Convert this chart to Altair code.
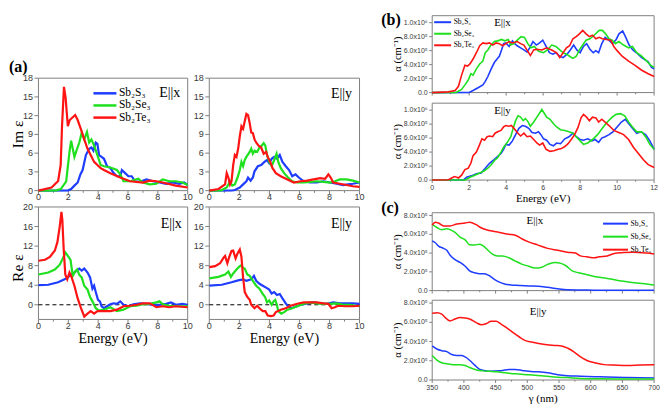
import math
import altair as alt
import pandas as pd

SERIES = ["Sb₂S₃", "Sb₂Se₃", "Sb₂Te₃"]
COLORS = ["#1f3dff", "#1fe01f", "#ff1414"]

# ---------- (a) Im eps, E||x  (energy eV, value)
A1_S = [(0,0),(2.0,0.05),(2.19,0.25),(2.41,0.8),(2.63,1.3),(2.81,2.6),(2.96,3.3),(3.18,5.7),(3.4,6.7),(3.55,6.9),(3.68,6.4),(3.84,7.7),(3.95,7.5),(4.06,5.7),(4.23,5.4),(4.39,5.1),(4.6,3.9),(4.82,3.6),(5.04,2.8),(5.26,2.3),(5.48,2.3),(5.59,3.3),(5.81,2.8),(6.03,2.3),(6.25,2.3),(6.47,1.5),(6.8,1.4),(7.24,1.8),(7.68,1.5),(8.11,1.3),(8.55,1.1),(9.0,1.3),(9.43,1.1),(9.76,1.3),(10,0.9)]
A1_SE = [(0,0),(1.2,0.05),(1.5,0.25),(1.86,1.5),(2.08,6.2),(2.19,8.0),(2.3,6.7),(2.41,5.4),(2.59,6.7),(2.74,7.7),(2.9,9.3),(3.07,8.2),(3.25,9.4),(3.4,7.7),(3.55,8.2),(3.73,7.2),(3.95,5.7),(4.17,4.1),(4.39,3.9),(4.82,3.7),(5.26,3.3),(5.48,2.6),(5.7,1.5),(6.14,1.5),(6.69,1.9),(7.0,1.3),(7.46,1.0),(7.9,1.1),(8.33,1.8),(8.77,1.5),(9.2,1.5),(9.65,1.3),(10,0.9)]
A1_TE = [(0,0),(0.88,0.51),(1.32,1.54),(1.49,4.1),(1.58,10.3),(1.71,16.6),(1.82,14.9),(1.97,10.3),(2.1,11.3),(2.46,12.1),(2.63,11.3),(2.85,9.8),(3.07,8.2),(3.29,6.7),(3.5,5.7),(3.73,4.6),(3.95,4.1),(4.17,3.6),(4.39,3.3),(4.82,2.8),(5.48,2.1),(6.14,1.5),(7.0,1.3),(7.46,1.6),(7.9,1.5),(8.33,1.3),(9.2,0.8),(10,0.5)]

# ---------- (a) Im eps, E||y
A2_S = [(0,0),(1.5,0.02),(1.7,0.1),(2.03,0.5),(2.25,1.0),(2.47,1.5),(2.58,2.1),(2.75,1.6),(2.9,2.1),(3.01,3.1),(3.23,3.9),(3.45,4.1),(3.67,4.6),(3.84,4.9),(3.99,4.4),(4.15,5.1),(4.32,5.4),(4.5,5.1),(4.69,5.7),(4.87,4.6),(5.09,3.9),(5.31,3.3),(5.52,2.3),(5.74,2.6),(5.96,2.1),(6.29,1.5),(6.72,1.3),(7.16,1.3),(7.6,1.5),(8.03,1.3),(8.47,1.1),(8.91,0.9),(9.24,1.0),(9.56,1.1),(10,1.3)]
A2_SE = [(0,0),(0.8,0.05),(1.16,0.5),(1.38,1.5),(1.53,0.8),(1.7,1.0),(1.88,2.1),(2.03,3.3),(2.14,4.6),(2.25,3.9),(2.36,4.9),(2.47,5.4),(2.69,6.2),(2.79,6.7),(2.9,5.9),(3.01,6.4),(3.19,6.2),(3.34,6.9),(3.49,7.2),(3.62,7.6),(3.73,7.2),(3.84,5.7),(3.99,4.6),(4.15,3.9),(4.32,4.9),(4.48,5.9),(4.59,4.6),(4.76,3.6),(4.98,2.8),(5.24,2.1),(5.52,1.5),(5.85,1.3),(6.29,1.3),(6.72,1.4),(7.16,1.5),(7.6,1.4),(8.03,1.3),(8.36,1.5),(8.69,1.8),(9.13,1.8),(9.56,1.6),(10,1.3)]
A2_TE = [(0,0),(0.61,0.26),(1.05,1.0),(1.16,2.8),(1.27,2.1),(1.38,1.0),(1.48,1.5),(1.59,4.1),(1.7,5.7),(1.81,5.4),(1.92,6.7),(2.03,8.7),(2.14,10.3),(2.25,9.9),(2.36,11.1),(2.47,12.3),(2.58,12.1),(2.69,10.8),(2.79,9.3),(2.9,9.2),(3.01,8.2),(3.12,7.7),(3.28,7.2),(3.45,6.9),(3.62,5.9),(3.78,6.2),(3.89,5.4),(4.06,4.6),(4.21,3.6),(4.43,2.8),(4.76,2.3),(5.2,1.8),(5.63,1.3),(6.07,1.5),(6.51,1.6),(6.94,1.8),(7.38,2.0),(7.71,1.9),(7.93,2.6),(8.08,2.1),(8.25,1.3),(8.69,1.1),(9.13,0.9),(9.56,0.7),(10,0.6)]

# ---------- (a) Re eps, E||x
A3_S = [(0,4.0),(0.66,4.1),(1.32,4.6),(1.75,5.2),(2.19,6.1),(2.52,6.9),(2.74,7.4),(2.9,7.0),(3.07,7.4),(3.29,6.6),(3.46,5.6),(3.62,3.3),(3.73,3.9),(3.84,2.6),(3.99,1.0),(4.12,0.7),(4.23,-0.3),(4.39,-0.7),(4.6,-0.3),(4.82,0.1),(5.04,0.3),(5.26,0.2),(5.48,0.7),(5.7,0),(6.03,-0.3),(6.36,0.1),(6.8,0.3),(7.24,0.2),(7.68,0),(8.11,0),(8.55,0.2),(8.88,0.5),(9.2,0),(9.65,0.2),(10,0)]
A3_SE = [(0,6.2),(0.66,6.6),(1.1,7.2),(1.43,8.2),(1.64,9.5),(1.8,10.7),(1.97,10.0),(2.15,9.2),(2.3,5.9),(2.46,6.8),(2.59,7.2),(2.74,6.1),(2.9,5.6),(3.07,3.9),(3.29,3.1),(3.46,1.6),(3.62,0.7),(3.84,-0.7),(4.06,-1.2),(4.39,-1.0),(4.82,-0.5),(5.26,-1.3),(5.7,-1.0),(6.14,-0.3),(6.58,-0.2),(7.0,0.1),(7.46,0.2),(7.9,0.5),(8.11,0.7),(8.33,0.1),(8.77,-0.2),(9.43,-0.3),(10,-0.3)]
A3_TE = [(0,9.0),(0.44,9.2),(0.77,9.8),(1.1,11.1),(1.27,12.8),(1.43,16.1),(1.54,19.0),(1.6,17.4),(1.69,11.5),(1.8,6.2),(1.93,5.2),(2.08,6.6),(2.19,5.9),(2.41,3.9),(2.63,1.3),(2.85,-0.7),(3.07,-2.4),(3.29,-1.8),(3.5,-1.3),(3.73,-1.8),(3.95,-1.3),(4.39,-1.3),(4.82,-1.3),(5.26,-1.0),(5.7,-0.3),(6.14,-0.2),(6.58,0),(7.0,0.3),(7.46,0.3),(7.9,-0.5),(8.33,-0.3),(8.77,-0.5),(9.2,-0.3),(10,-0.5)]

# ---------- (a) Re eps, E||y
A4_S = [(0,3.9),(0.83,4.1),(1.48,4.6),(1.92,5.0),(2.25,5.2),(2.47,4.9),(2.79,5.2),(2.97,5.9),(3.12,4.9),(3.34,4.3),(3.56,3.9),(3.78,3.5),(3.99,3.1),(4.15,2.3),(4.32,2.6),(4.5,2.0),(4.69,2.2),(4.87,1.3),(5.09,0.3),(5.24,-0.3),(5.41,-0.7),(5.63,-0.5),(5.85,-0.3),(6.07,0),(6.51,0.3),(6.94,0.5),(7.38,0.3),(7.82,0.2),(8.25,0.5),(8.69,0.3),(9.13,0.3),(9.56,0.3),(10,0.2)]
A4_SE = [(0,5.4),(0.61,5.7),(1.05,6.2),(1.27,6.8),(1.44,5.7),(1.59,6.4),(1.81,7.2),(2.03,7.9),(2.14,8.1),(2.25,7.5),(2.36,7.4),(2.53,6.2),(2.69,5.9),(2.9,4.9),(3.12,3.9),(3.34,3.3),(3.56,2.2),(3.71,1.6),(3.84,0.5),(3.99,0.9),(4.15,0),(4.28,0.7),(4.39,1.0),(4.5,0),(4.59,-1.3),(4.8,-1.8),(4.98,-1.5),(5.2,-1.0),(5.52,-0.7),(5.85,-0.3),(6.29,0.2),(6.72,0.5),(7.16,0.3),(7.6,0.2),(8.03,0.2),(8.47,0.3),(8.91,0),(9.34,0),(10,-0.3)]
A4_TE = [(0,7.7),(0.39,7.9),(0.72,8.5),(0.94,9.6),(1.05,10.0),(1.2,8.5),(1.33,9.8),(1.48,11.0),(1.59,11.1),(1.75,9.5),(1.88,10.5),(2.03,11.3),(2.14,9.8),(2.25,5.6),(2.36,2.6),(2.53,1.6),(2.69,1.0),(2.79,0),(3.01,-0.7),(3.19,-0.2),(3.34,-0.7),(3.56,-1.3),(3.73,-1.3),(3.89,-2.2),(4.1,-2.3),(4.28,-2.2),(4.43,-1.5),(4.76,-1.0),(5.09,-0.7),(5.41,-0.2),(5.85,0.2),(6.29,0.5),(6.72,0.5),(7.16,0.5),(7.6,0.3),(7.93,0.2),(8.14,-0.7),(8.36,-0.5),(8.58,-0.2),(9.02,-0.3),(9.56,-0.3),(10,-0.2)]

# ---------- (b) alpha (x1e5 cm^-1) vs energy, E||x
B1_S = [(0,0),(2.0,0.02),(2.21,0.3),(2.48,0.7),(2.74,1.1),(2.87,1.6),(3.01,2.3),(3.19,3.4),(3.36,4.3),(3.54,4.9),(3.63,5.2),(3.75,6.1),(3.86,7.0),(3.98,7.1),(4.16,6.6),(4.34,7.4),(4.46,7.0),(4.6,6.7),(4.78,6.4),(4.96,6.1),(5.13,5.8),(5.27,6.4),(5.45,7.3),(5.63,6.8),(5.81,7.1),(5.98,7.5),(6.16,6.6),(6.34,5.7),(6.52,5.5),(6.69,5.7),(6.9,5.2),(7.08,5.0),(7.29,5.5),(7.47,6.1),(7.65,6.8),(7.82,6.1),(8.0,5.7),(8.18,6.6),(8.35,7.0),(8.53,6.2),(8.71,5.7),(8.85,6.0),(9.0,5.7),(9.17,7.0),(9.35,7.9),(9.55,7.5),(9.75,7.0),(9.95,7.6),(10.1,8.4),(10.3,8.8),(10.45,8.0),(10.65,6.8),(10.85,6.1),(11.05,5.7),(11.33,5.0),(11.68,4.4),(11.86,3.6),(12,3.4)]
B1_SE = [(0,0),(1.3,0.02),(1.59,0.45),(1.77,1.1),(1.95,1.8),(2.09,2.7),(2.21,2.5),(2.39,3.4),(2.57,4.1),(2.74,4.5),(2.87,5.7),(3.01,6.1),(3.15,6.7),(3.36,7.3),(3.54,7.4),(3.75,7.6),(3.93,7.4),(4.11,7.6),(4.25,6.8),(4.42,7.0),(4.6,7.5),(4.81,8.0),(4.99,7.9),(5.17,7.0),(5.34,6.4),(5.52,6.6),(5.75,5.9),(6.02,5.7),(6.23,6.1),(6.46,6.8),(6.69,6.6),(6.9,6.1),(7.08,5.7),(7.26,5.5),(7.43,5.2),(7.61,4.9),(7.79,5.2),(7.96,6.1),(8.14,6.8),(8.32,7.5),(8.53,7.7),(8.76,8.2),(9.03,8.9),(9.2,8.9),(9.38,8.4),(9.56,7.7),(9.73,7.5),(9.91,7.0),(10.09,7.3),(10.35,6.8),(10.62,6.4),(10.83,6.6),(11.06,5.7),(11.33,5.2),(11.6,4.5),(11.82,3.9),(12,3.6)]
B1_TE = [(0,0),(0.88,0.1),(1.24,0.3),(1.42,0.9),(1.59,2.5),(1.77,3.9),(1.91,3.8),(2.04,4.1),(2.21,4.8),(2.39,5.7),(2.57,6.7),(2.74,7.1),(2.92,7.0),(3.1,7.1),(3.27,6.8),(3.45,7.1),(3.63,7.0),(3.81,6.7),(3.98,7.0),(4.16,7.3),(4.34,7.1),(4.6,7.3),(4.78,7.0),(4.96,6.8),(5.17,5.9),(5.31,5.3),(5.49,6.1),(5.66,6.2),(5.93,6.1),(6.19,6.4),(6.46,6.1),(6.73,5.7),(6.9,5.0),(7.08,5.7),(7.26,6.4),(7.43,6.7),(7.61,7.7),(7.79,8.0),(7.96,8.4),(8.14,8.9),(8.32,8.4),(8.5,8.0),(8.67,8.2),(8.85,7.7),(9.03,7.9),(9.2,7.7),(9.42,7.6),(9.65,7.5),(9.82,6.6),(10.0,6.0),(10.27,5.2),(10.62,4.5),(10.97,3.9),(11.33,3.2),(11.68,2.7),(12,2.3)]

# ---------- (b) alpha vs energy, E||y
B2_S = [(0,0),(1.7,0.02),(1.86,0.4),(2.12,0.6),(2.39,0.9),(2.65,1.0),(2.87,1.7),(3.1,2.4),(3.33,2.9),(3.5,3.3),(3.72,3.8),(3.86,4.4),(3.98,5.1),(4.16,5.0),(4.34,5.6),(4.51,6.5),(4.69,7.4),(4.87,7.8),(5.04,7.7),(5.22,7.4),(5.4,6.8),(5.58,6.7),(5.75,6.9),(5.88,6.5),(6.02,5.9),(6.19,5.7),(6.37,5.1),(6.55,4.9),(6.73,5.3),(6.94,5.2),(7.17,5.9),(7.4,6.2),(7.61,6.7),(7.79,6.2),(8.0,5.8),(8.18,5.7),(8.41,5.9),(8.64,5.6),(8.81,5.8),(9.0,5.4),(9.17,6.0),(9.35,6.2),(9.56,6.5),(9.77,6.9),(10.0,7.6),(10.23,8.3),(10.44,8.7),(10.62,8.1),(10.83,7.4),(11.06,6.7),(11.29,6.9),(11.54,6.5),(11.77,5.6),(12,4.4)]
B2_SE = [(0,0),(1.8,0.02),(2.04,0.4),(2.3,0.7),(2.57,1.0),(2.8,1.3),(3.01,1.7),(3.19,2.2),(3.4,2.9),(3.54,3.2),(3.72,4.0),(3.86,4.7),(3.98,5.1),(4.11,5.6),(4.25,6.2),(4.39,7.5),(4.51,8.5),(4.64,9.2),(4.78,9.0),(4.92,8.5),(5.04,8.8),(5.17,8.4),(5.31,7.7),(5.49,8.3),(5.66,9.0),(5.81,9.6),(5.93,10.1),(6.05,9.6),(6.19,9.0),(6.37,8.7),(6.55,8.1),(6.73,7.6),(6.94,7.2),(7.17,7.1),(7.4,6.9),(7.61,6.7),(7.79,6.2),(8.0,5.6),(8.18,5.1),(8.41,5.3),(8.67,5.8),(8.94,6.5),(9.2,7.4),(9.47,8.3),(9.73,9.0),(9.95,9.4),(10.18,9.5),(10.41,9.2),(10.62,8.3),(10.83,7.6),(11.06,6.9),(11.33,6.9),(11.54,6.2),(11.77,5.1),(12,4.4)]
B2_TE = [(0,0),(0.88,0.05),(1.06,0.3),(1.2,0.5),(1.33,0.4),(1.42,0.3),(1.59,0.7),(1.77,1.5),(1.95,1.7),(2.09,2.4),(2.21,3.5),(2.39,4.0),(2.57,5.1),(2.69,5.9),(2.83,5.7),(2.97,6.2),(3.1,6.3),(3.27,6.2),(3.4,6.7),(3.54,6.9),(3.72,7.1),(3.86,7.6),(3.98,7.8),(4.16,7.7),(4.28,7.8),(4.42,7.4),(4.6,6.8),(4.78,6.3),(4.96,6.7),(5.13,6.2),(5.31,6.3),(5.49,5.8),(5.66,5.3),(5.81,5.0),(5.98,5.3),(6.16,4.4),(6.37,4.1),(6.58,4.2),(6.81,4.4),(6.99,4.5),(7.17,4.8),(7.35,5.2),(7.52,5.8),(7.7,6.5),(7.88,7.5),(8.05,8.9),(8.18,9.4),(8.35,9.0),(8.5,8.5),(8.67,9.0),(8.85,8.9),(9.0,8.3),(9.17,8.7),(9.35,8.3),(9.56,7.8),(9.82,7.1),(10.09,6.8),(10.35,6.5),(10.62,5.8),(10.88,4.7),(11.15,3.8),(11.42,2.9),(11.68,2.2),(12,1.8)]

# ---------- (c) alpha (x1e5 cm^-1) vs wavelength (nm), E||x
C1_S = [(350,5.3),(355,5.1),(360,4.75),(368,4.5),(373,4.3),(378,3.8),(386,3.3),(394,3.0),(402,2.6),(409,2.1),(417,1.9),(425,1.8),(432,1.8),(440,1.6),(448,1.2),(456,0.9),(464,0.7),(474,0.6),(487,0.55),(502,0.5),(517,0.47),(532,0.35),(548,0.2),(563,0.1),(584,0.07),(615,0.03),(657,0.03),(700,0.03)]
C1_SE = [(350,7.05),(358,6.7),(365,6.5),(373,6.6),(378,6.5),(386,6.2),(394,5.7),(402,5.4),(409,4.9),(417,4.85),(425,4.95),(431,4.75),(438,4.3),(445,3.9),(453,3.7),(461,3.7),(471,3.5),(481,3.15),(492,2.8),(502,2.6),(512,2.4),(523,2.5),(532,2.8),(543,3.0),(553,2.9),(561,2.65),(571,2.1),(581,1.9),(594,1.7),(610,1.45),(626,1.3),(641,1.1),(657,0.95),(673,0.8),(688,0.7),(700,0.6)]
C1_TE = [(350,6.98),(355,7.3),(360,7.2),(368,6.9),(378,6.9),(389,7.1),(402,7.2),(409,7.3),(420,7.0),(427,6.7),(440,6.4),(456,6.2),(471,6.0),(481,5.9),(492,5.5),(502,5.2),(517,4.85),(532,4.5),(548,4.3),(563,4.1),(576,4.0),(584,3.7),(594,3.6),(606,3.5),(613,3.6),(626,3.7),(637,3.95),(652,4.05),(667,4.1),(688,4.0),(700,3.9)]

# ---------- (c) alpha vs wavelength, E||y
C2_S = [(350,3.55),(358,3.2),(365,3.05),(373,2.95),(381,2.65),(389,2.55),(396,2.55),(402,2.4),(409,2.05),(417,1.55),(425,1.1),(432,1.0),(440,0.9),(451,0.95),(461,1.0),(471,1.1),(481,1.1),(492,1.0),(502,0.9),(517,0.85),(532,0.75),(548,0.55),(563,0.45),(584,0.4),(606,0.35),(626,0.3),(657,0.25),(700,0.2)]
C2_SE = [(350,2.55),(358,2.05),(365,1.8),(373,1.7),(383,1.6),(394,1.6),(402,1.5),(409,1.3),(420,1.05),(430,0.95),(440,0.9),(451,0.85),(466,0.75),(481,0.65),(502,0.55),(522,0.45),(543,0.3),(563,0.25),(584,0.15),(615,0.12),(657,0.1),(700,0.1)]
C2_TE = [(350,6.94),(358,7.0),(365,6.85),(373,6.35),(378,6.15),(386,6.35),(394,6.5),(402,6.45),(409,6.35),(420,5.95),(427,5.75),(435,5.85),(443,6.1),(451,6.1),(458,5.85),(466,5.5),(476,5.0),(487,4.5),(497,4.1),(507,3.95),(518,3.8),(528,3.7),(543,3.6),(554,3.55),(564,3.3),(574,2.9),(584,2.4),(595,2.0),(606,1.8),(621,1.6),(637,1.55),(657,1.5),(678,1.55),(700,1.6)]

# ---------- axis ticks
A_X_TICKS = [0, 2, 4, 6, 8, 10]
A_X_MINOR = [1, 3, 5, 7, 9]
IM_TICKS = [0, 3, 6, 9, 12, 15, 18]
RE_TICKS = [0, 4, 8, 12, 16, 20]
B_X_TICKS = [0, 2, 4, 6, 8, 10, 12]
B_X_MINOR = [1, 3, 5, 7, 9, 11]
B_Y_TICKS = [0, 2, 4, 6, 8, 10]
C_X_TICKS = [350, 400, 450, 500, 550, 600, 650, 700]
C_X_MINOR = [375, 425, 475, 525, 575, 625, 675]
C_Y_TICKS = [0, 2, 4, 6, 8]

# ---------------- layout helpers ----------------
W, H = 652, 397
SX, SY = 652 / 664, 397 / 413


def px(v):
    return (v - 2) * SX


def py(v):
    return v * SY


SERIF = "Liberation Serif"
SANS = "Liberation Sans"
AX = "#808080"
LABC = "#3a3a3a"


def plain(v):
    return f"{v:g}"


def expo(v):
    if v == 0:
        return "0.0"
    if v >= 10:
        return f"{v / 10:.1f}x10⁶"
    return f"{v:.1f}x10⁵"


def make_panel(curves, xdom, ydom, box, xticks, xminor, yticks, *, yfmt=plain,
               xlabels=True, xtitle=None, ytitle=None, ytitle_y=None, small=False,
               sw=2.0, interp="linear", notes=(), legend=None, zero=False):
    x0, x1, y0, y1 = box
    xs = alt.Scale(domain=xdom, range=[px(x0), px(x1)], nice=False, zero=False)
    ys = alt.Scale(domain=ydom, range=[py(y1), py(y0)], nice=False, zero=False)

    def X(f):
        return alt.X(f, scale=xs, axis=None)

    def Y(f):
        return alt.Y(f, scale=ys, axis=None)

    tick = 3 if small else 4
    lab = 7 if small else 9
    layers = []

    frame_df = pd.DataFrame({"x": [xdom[0]], "x2": [xdom[1]], "y": [ydom[0]], "y2": [ydom[1]]})
    layers.append(alt.Chart(frame_df).mark_rect(fillOpacity=0, stroke=AX, strokeWidth=1).encode(
        x=X("x:Q"), x2="x2:Q", y=Y("y:Q"), y2="y2:Q"))

    # x ticks (major / minor), y ticks
    xt = pd.DataFrame({"v": xticks, "b": [ydom[0]] * len(xticks),
                       "t": [plain(v) for v in xticks]})
    layers.append(alt.Chart(xt).mark_rule(color=AX, strokeWidth=1, y2Offset=tick).encode(
        x=X("v:Q"), y=Y("b:Q"), y2="b:Q"))
    xm = pd.DataFrame({"v": xminor, "b": [ydom[0]] * len(xminor)})
    layers.append(alt.Chart(xm).mark_rule(color=AX, strokeWidth=1, y2Offset=tick * 0.55).encode(
        x=X("v:Q"), y=Y("b:Q"), y2="b:Q"))
    yt = pd.DataFrame({"v": yticks, "b": [xdom[0]] * len(yticks),
                       "t": [yfmt(v) for v in yticks]})
    layers.append(alt.Chart(yt).mark_rule(color=AX, strokeWidth=1, x2Offset=-tick).encode(
        x=X("b:Q"), x2="b:Q", y=Y("v:Q")))
    # tick labels
    if xlabels:
        layers.append(alt.Chart(xt).mark_text(
            font=SANS, fontSize=lab, color=LABC, align="center", baseline="middle",
            dy=(8 if small else 7) * SY).encode(x=X("v:Q"), y=Y("b:Q"), text="t:N"))
    layers.append(alt.Chart(yt).mark_text(
        font=SANS, fontSize=lab, color=LABC, align="right", baseline="middle",
        dx=-(tick + 1.5)).encode(x=X("b:Q"), y=Y("v:Q"), text="t:N"))
    # axis titles
    if xtitle:
        tdf = pd.DataFrame({"x": [(xdom[0] + xdom[1]) / 2], "y": [ydom[0]], "t": [xtitle]})
        layers.append(alt.Chart(tdf).mark_text(
            font=SERIF, fontSize=11 if small else 14, color="black", align="center",
            baseline="middle", dy=(19.5 if small else 20.5) * SY).encode(
            x=X("x:Q"), y=Y("y:Q"), text="t:N"))
    if ytitle:
        yc = ytitle_y if ytitle_y is not None else (ydom[0] + ydom[1]) / 2
        tdf = pd.DataFrame({"x": [xdom[0]], "y": [yc], "t": [ytitle]})
        layers.append(alt.Chart(tdf).mark_text(
            font=SERIF, fontSize=10.5 if small else 15.5, color="black", align="center",
            baseline="middle", angle=270, xOffset=-(35 if small else 20.5) * SX).encode(
            x=X("x:Q"), y=Y("y:Q"), text="t:N"))

    if zero:
        zdf = pd.DataFrame({"x": [xdom[0]], "x2": [xdom[1]], "y": [0]})
        layers.append(alt.Chart(zdf).mark_rule(color="black", strokeWidth=1,
                                               strokeDash=[4, 3]).encode(
            x=X("x:Q"), x2="x2:Q", y=Y("y:Q")))

    rows = []
    for name, pts in zip(SERIES, curves):
        for e, v in pts:
            rows.append({"e": e, "v": v, "s": name})
    df = pd.DataFrame(rows)
    color = alt.Color("s:N", scale=alt.Scale(domain=SERIES, range=COLORS), legend=legend)
    layers.append(alt.Chart(df).mark_line(strokeWidth=sw, interpolate=interp).encode(
        x=X("e:Q"), y=Y("v:Q"), color=color, detail="s:N"))

    for (tx, ty, txt, size, bold, align) in notes:
        ndf = pd.DataFrame({"x": [tx], "y": [ty], "t": [txt]})
        layers.append(alt.Chart(ndf).mark_text(
            font=SERIF, fontSize=size, fontWeight="bold" if bold else "normal",
            align=align, baseline="middle", color="black").encode(
            x=X("x:Q"), y=Y("y:Q"), text="t:N"))
    return alt.layer(*layers)


def legend_at(line_left, line_len, row1_y, font, spacing, sw):
    r = line_len / 2.5
    size_ = max(math.ceil(r + sw), font)
    lx = px(line_left) - size_ / 2 + line_len / 2
    label_x = px(line_left) + line_len + 2.5
    return alt.Legend(orient="none", legendX=lx, legendY=py(row1_y) - 0.5 * font,
                      title=None, symbolType="M-2.5,0H2.5", symbolSize=r * r,
                      symbolStrokeWidth=sw, labelFont=SERIF, labelFontSize=font,
                      labelColor="black", labelOffset=label_x - (lx + size_),
                      rowPadding=spacing * SY - 1.2 * font, padding=0)


a1 = make_panel([A1_S, A1_SE, A1_TE], [0, 10], [0, 18], (33, 185, 73, 190),
                A_X_TICKS, A_X_MINOR, IM_TICKS, ytitle="Im ε", sw=2.2,
                notes=[(8.8, 15.6, "E||x", 14, False, "center"),
                       (-1.97, 19.85, "(a)", 16, True, "left")],
                legend=legend_at(89, 23, 88.5, 11.5, 14.5, 2.5))
a2 = make_panel([A2_S, A2_SE, A2_TE], [0, 10], [0, 18], (207, 360, 73, 190),
                A_X_TICKS, A_X_MINOR, IM_TICKS, sw=2.2,
                notes=[(8.8, 15.4, "E||y", 14, False, "center")])
a3 = make_panel([A3_S, A3_SE, A3_TE], [0, 10], [-3, 20], (33, 185, 207, 324),
                A_X_TICKS, A_X_MINOR, RE_TICKS, xtitle="Energy (eV)", ytitle="Re ε",
                ytitle_y=7.5, sw=2.2, zero=True,
                notes=[(8.9, 16.6, "E||x", 14, False, "center")])
a4 = make_panel([A4_S, A4_SE, A4_TE], [0, 10], [-3, 20], (207, 360, 207, 324),
                A_X_TICKS, A_X_MINOR, RE_TICKS, xtitle="Energy (eV)", sw=2.2, zero=True,
                notes=[(8.8, 16.6, "E||y", 14, False, "center")])
b1 = make_panel([B1_S, B1_SE, B1_TE], [0, 12], [0, 11], (434, 660, 8, 88),
                B_X_TICKS, B_X_MINOR, B_Y_TICKS, yfmt=expo, xlabels=False,
                ytitle="α (cm⁻¹)", small=True, sw=1.6,
                notes=[(3.8, 9.9, "E||x", 11, False, "center"),
                       (-2.76, 10.45, "(b)", 16, True, "left")],
                legend=legend_at(436, 17, 14, 7.5, 12, 2))
b2 = make_panel([B2_S, B2_SE, B2_TE], [0, 12], [0, 11], (434, 660, 99, 179),
                B_X_TICKS, B_X_MINOR, B_Y_TICKS, yfmt=expo, xtitle="Energy (eV)",
                ytitle="α (cm⁻¹)", small=True, sw=1.6,
                notes=[(3.8, 9.9, "E||y", 11, False, "center")])
c1 = make_panel([C1_S, C1_SE, C1_TE], [350, 700], [0, 8.3], (434, 660, 213, 294),
                C_X_TICKS, C_X_MINOR, C_Y_TICKS, yfmt=expo, xlabels=False,
                ytitle="α (cm⁻¹)", small=True, sw=1.5, interp="monotone",
                notes=[(512, 7.4, "E||x", 11, False, "center"),
                       (269.5, 8.81, "(c)", 16, True, "left")],
                legend=legend_at(608, 25, 222, 7.5, 12.5, 2))
c2 = make_panel([C2_S, C2_SE, C2_TE], [350, 700], [0, 8.3], (434, 660, 304, 387),
                C_X_TICKS, C_X_MINOR, C_Y_TICKS, yfmt=expo, xtitle="γ (nm)",
                ytitle="α (cm⁻¹)", small=True, sw=1.5, interp="monotone",
                notes=[(517, 7.1, "E||y", 11, False, "center")])

chart = alt.layer(a1, a2, a3, a4, b1, b2, c1, c2).resolve_scale(
    x="independent", y="independent", color="independent"
).properties(
    width=W, height=H, padding=0,
    autosize=alt.AutoSizeParams(type="none"),
).configure_view(stroke=None)

chart.save("out.html", embed_options={"renderer": "svg", "actions": False})
